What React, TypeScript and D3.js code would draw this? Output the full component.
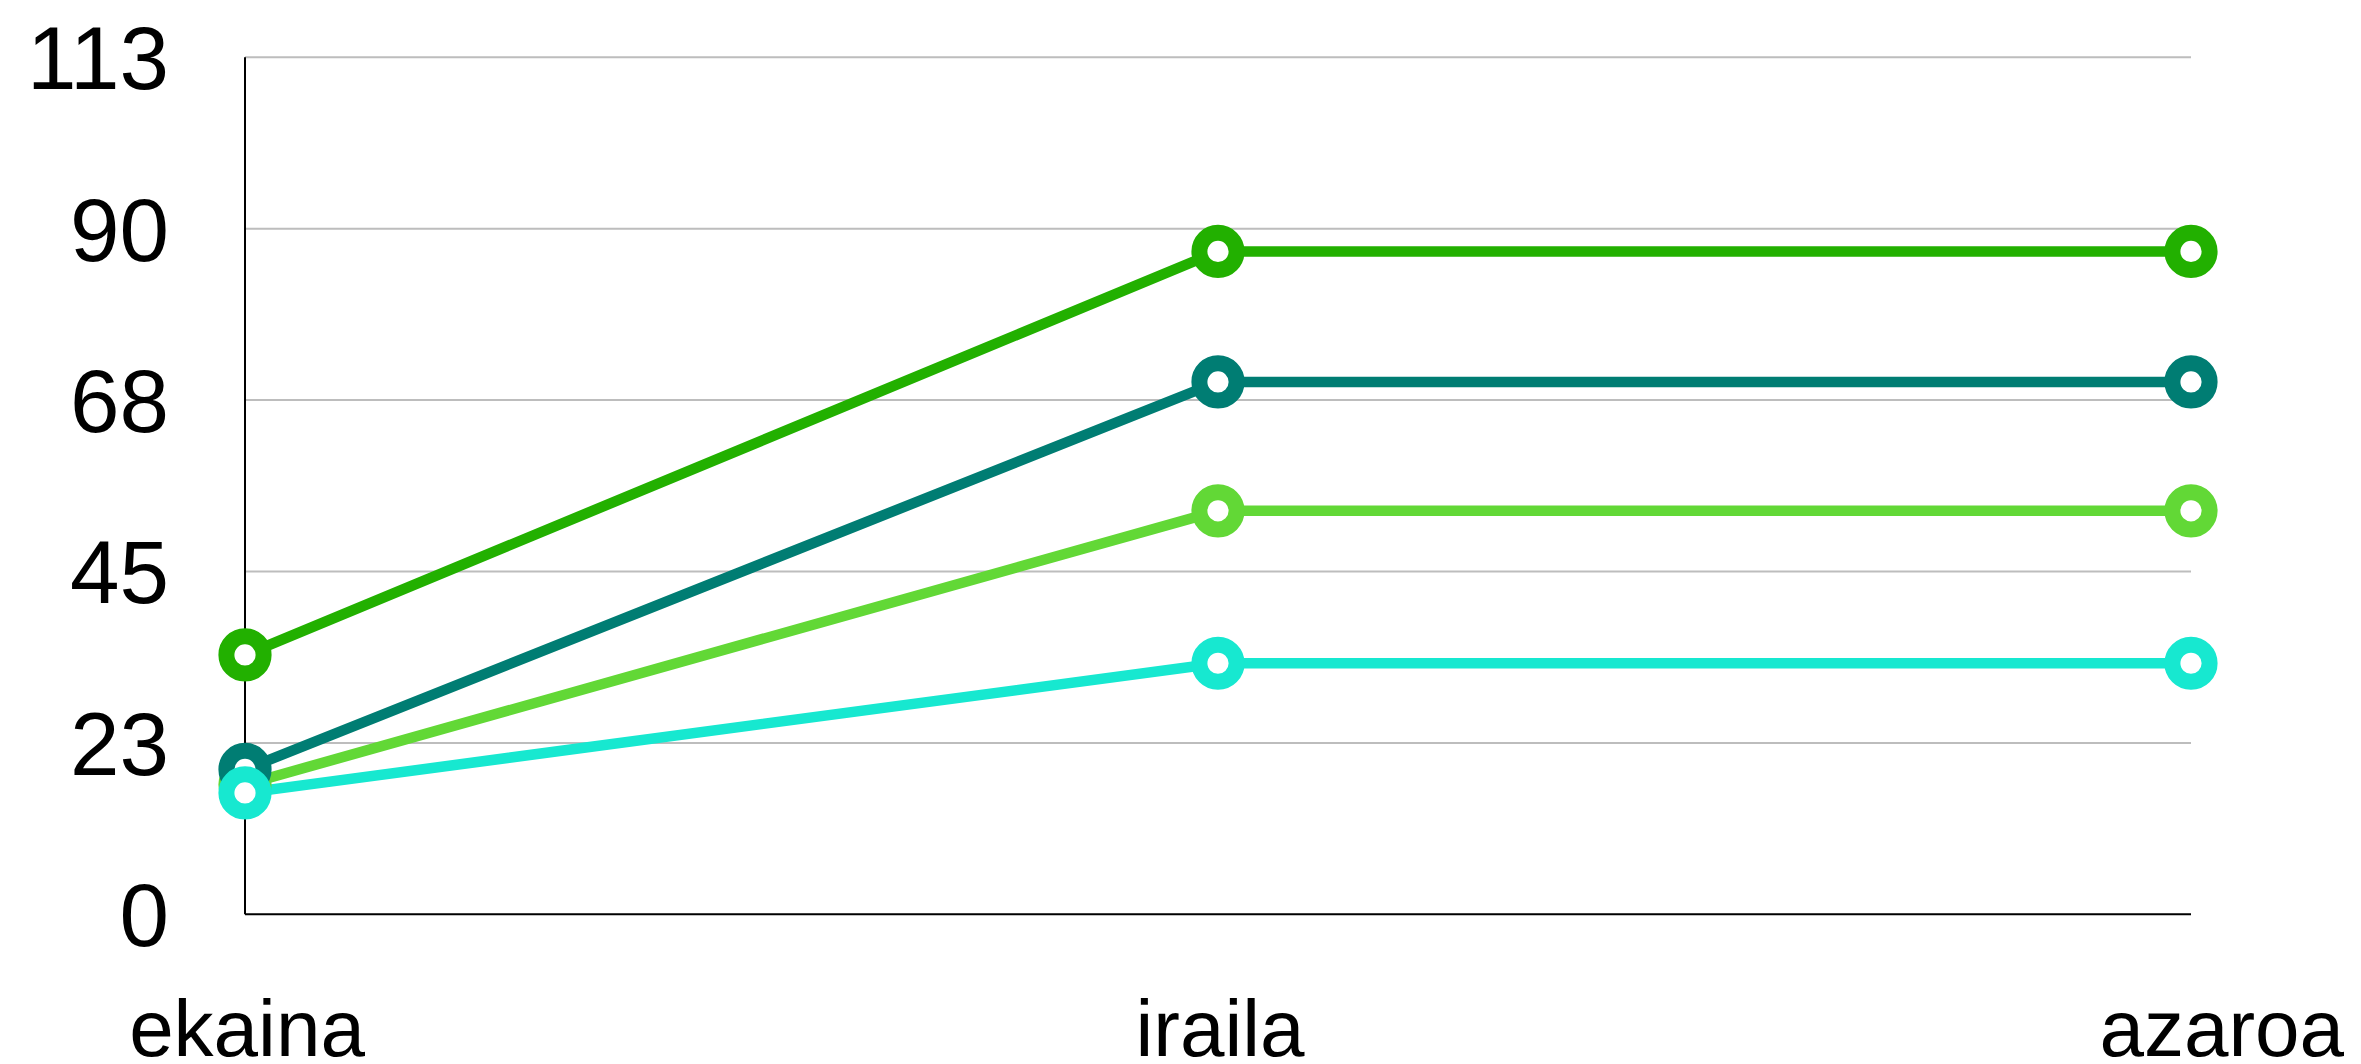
import React from "react";
import * as d3 from "d3";

const categories = ["ekaina", "iraila", "azaroa"];
const yTicks = [0, 22.6, 45.2, 67.8, 90.4, 113];
const yTickLabels = ["0", "23", "45", "68", "90", "113"];
const seriesDarkGreen = [34.2, 87.4, 87.4];
const seriesLightGreen = [17.1, 53.2, 53.2];
const seriesTeal = [19.1, 70.2, 70.2];
const seriesCyan = [16.0, 33.1, 33.1];

const series = [
  { values: seriesDarkGreen, color: "#22B000" },
  { values: seriesLightGreen, color: "#62D836" },
  { values: seriesTeal, color: "#007D73" },
  { values: seriesCyan, color: "#17E8D0" },
];

const W = 2361;
const H = 1064;
const left = 245;
const right = 2191;
const top = 57.3;
const bottom = 914.3;

export default function App() {
  const x = d3.scalePoint<string>().domain(categories).range([left, right]);
  const y = d3.scaleLinear().domain([0, 113]).range([bottom, top]);
  const line = d3
    .line<number>()
    .x((_, i) => x(categories[i]) as number)
    .y((d) => y(d));
  const font = "'Liberation Sans', Arial, sans-serif";
  const yFs = 89;
  return (
    <svg
      width={W}
      height={H}
      style={{ position: "absolute", left: 0, top: 0, display: "block", background: "#fff" }}
    >
      {yTicks.map((t, i) =>
        i > 0 ? (
          <line key={"g" + i} x1={left} x2={right} y1={y(t)} y2={y(t)} stroke="#BDBDBD" strokeWidth={2} />
        ) : null
      )}
      <line x1={left} x2={left} y1={top} y2={bottom} stroke="#000" strokeWidth={2} />
      <line x1={left} x2={right} y1={bottom} y2={bottom} stroke="#000" strokeWidth={2} />
      {yTicks.map((t, i) => (
        <text
          key={"yl" + i}
          x={169}
          y={y(t) + 0.358 * yFs}
          textAnchor="end"
          fontFamily={font}
          fontSize={yFs}
          fill="#000"
        >
          {yTickLabels[i]}
        </text>
      ))}
      {categories.map((c, i) => {
        const last = i === categories.length - 1;
        return (
          <text
            key={"xl" + i}
            x={last ? 2344 : (x(c) as number) + 2}
            y={1056}
            textAnchor={last ? "end" : "middle"}
            fontFamily={font}
            fontSize={80}
            fill="#000"
          >
            {c}
          </text>
        );
      })}
      {series.map((s, si) => (
        <path key={"l" + si} d={line(s.values) || ""} fill="none" stroke={s.color} strokeWidth={10.5} />
      ))}
      {series.map((s, si) => (
        <g key={"m" + si}>
          {s.values.map((v, i) => (
            <circle
              key={i}
              cx={x(categories[i]) as number}
              cy={y(v)}
              r={18.6}
              fill="#fff"
              stroke={s.color}
              strokeWidth={16}
            />
          ))}
        </g>
      ))}
    </svg>
  );
}
